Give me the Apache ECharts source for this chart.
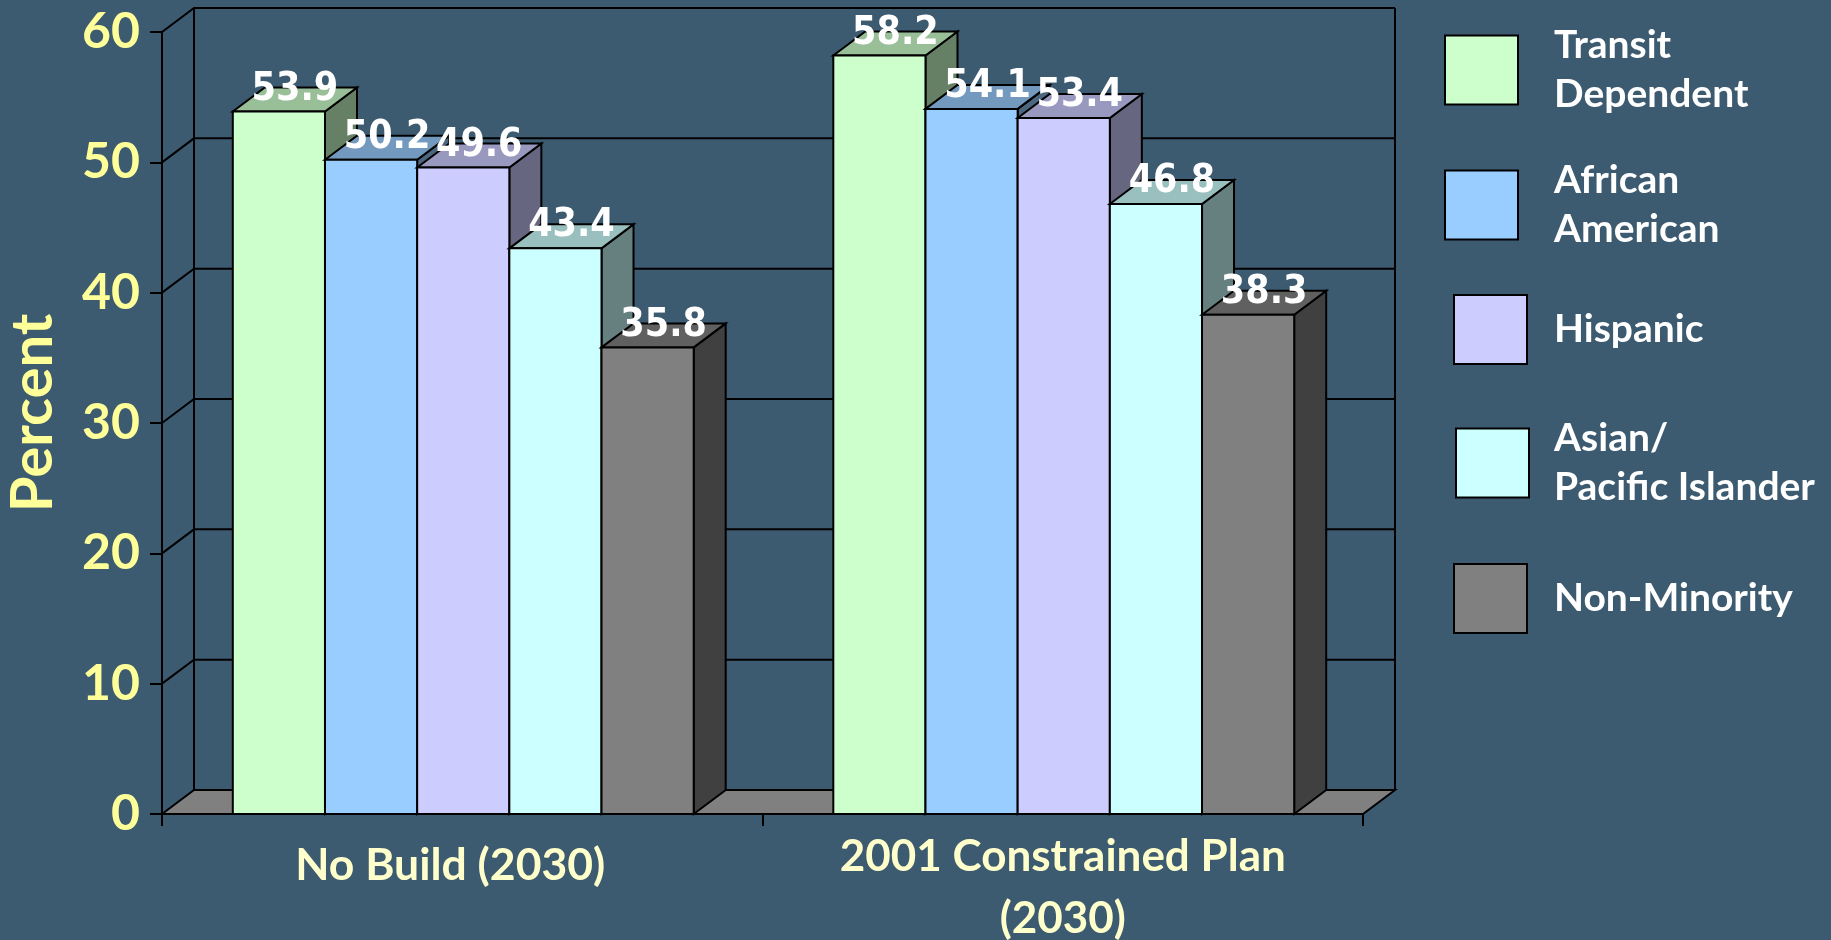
<!DOCTYPE html>
<html><head><meta charset="utf-8">
<style>html,body{margin:0;padding:0;background:#3c5a70}#c{width:1831px;height:940px}</style>
<script src="https://cdn.jsdelivr.net/npm/echarts@6/dist/echarts.min.js"></script></head>
<body><div id="c"></div>
<script>
const categories = ['No Build (2030)', '2001 Constrained Plan\n(2030)'];
const tickValues = [0, 10, 20, 30, 40, 50, 60];
const transitDependent = [53.9, 58.2];
const africanAmerican = [50.2, 54.1];
const hispanic = [49.6, 53.4];
const asianPacific = [43.4, 46.8];
const nonMinority = [35.8, 38.3];
const names = ['Transit\nDependent', 'African\nAmerican', 'Hispanic', 'Asian/\nPacific Islander', 'Non-Minority'];
const colors = ['#CCFFCC', '#99CCFF', '#CCCCFF', '#CCFFFF', '#808080'];
const topColors = ['#99BF99', '#7399BF', '#9999BF', '#99BFBF', '#606060'];
const sideColors = ['#668066', '#4D6680', '#666680', '#668080', '#404040'];
const values = [transitDependent, africanAmerican, hispanic, asianPacific, nonMinority];

const DX = 32, DY = 24;
const FONT = 'Lato';
const BAR = 0.1535;          // bar width as share of a category band
const chart = echarts.init(document.getElementById('c'));

function barSeries(idx) {
  return {
    type: 'custom', name: names[idx], coordinateSystem: 'cartesian2d', z: 3, clip: false,
    itemStyle: { color: colors[idx] },
    encode: { x: 0, y: 1 },
    data: values[idx].map((v, i) => [i, v]),
    renderItem(params, api) {
      const band = api.size([1, 0])[0];
      const w = band * BAR;
      const c = api.coord([api.value(0), api.value(1)]);
      const base = api.coord([api.value(0), 0])[1];
      const x0 = c[0] + (idx - 2.5) * w + 1;
      const x1 = x0 + w, y = c[1];
      const stroke = { stroke: '#000', lineWidth: 2, lineJoin: 'miter' };
      const poly = (points, fill) => ({ type: 'polygon', z2: idx * 3 + 1, shape: { points }, style: { fill, ...stroke } });
      return { type: 'group', children: [
        poly([[x1, base], [x1 + DX, base - DY], [x1 + DX, y - DY], [x1, y]], sideColors[idx]),
        poly([[x0, y], [x0 + DX, y - DY], [x1 + DX, y - DY], [x1, y]], topColors[idx]),
        poly([[x0, base], [x0, y], [x1, y], [x1, base]], colors[idx]),
        { type: 'text', z2: 100, x: x0 + w / 2 + DX / 2, y: y - 22,
          style: { text: api.value(1).toFixed(1), fill: '#fff', font: 'bold 39px "DejaVu Sans Condensed", "DejaVu Sans"', align: 'center', verticalAlign: 'middle' } }
      ] };
    }
  };
}

const wallSeries = {
  type: 'custom', name: 'walls', z: 1, clip: false, silent: true,
  encode: { y: 0 },
  data: tickValues.map(v => [v]),
  renderItem(params, api) {
    const v = api.value(0);
    const band = api.size([1, 0])[0];
    const l = api.coord([0, v])[0] - band / 2;
    const r = api.coord([1, v])[0] + band / 2;
    const y = api.coord([0, v])[1];
    const top = api.coord([0, 60])[1];
    const line = { stroke: '#000', lineWidth: 2, fill: 'none' };
    const kids = [];
    if (v === 0) {
      kids.push({ type: 'polygon', shape: { points: [[l, y], [l + DX, y - DY], [r + DX, y - DY], [r, y]] }, style: { fill: '#808080', stroke: '#000', lineWidth: 2 } });
      kids.push({ type: 'line', shape: { x1: l + DX, y1: top - DY, x2: l + DX, y2: y - DY }, style: line });
      kids.push({ type: 'line', shape: { x1: r + DX, y1: top - DY, x2: r + DX, y2: y - DY }, style: line });
    } else {
      kids.push({ type: 'polyline', shape: { points: [[l, y], [l + DX, y - DY], [r + DX, y - DY]] }, style: line });
    }
    return { type: 'group', children: kids };
  }
};

const legendPos = [[1444, 19], [1444, 156], [1453, 294], [1455, 412], [1453, 563]];
const legendTextTop = [4, 0, 8, 4, 0];
const legends = names.map((n, i) => ({
  data: [n], left: legendPos[i][0], top: legendPos[i][1], padding: 0, orient: 'vertical',
  icon: 'rect', itemWidth: 73, itemHeight: 69,
  selectedMode: false,
  itemStyle: { color: colors[i], borderColor: '#000', borderWidth: 2 },
  textStyle: { color: '#fff', fontFamily: FONT, fontWeight: 'bold', fontSize: 39, lineHeight: 49, padding: [legendTextTop[i], 0, 0, 1553 - legendPos[i][0] - 78] }
}));

chart.setOption({
  animation: false,
  backgroundColor: '#3c5a70',
  grid: { left: 162, right: 468, top: 32, bottom: 126, outerBoundsMode: 'none' },
  legend: legends,
  xAxis: {
    type: 'category', data: categories,
    axisLine: { lineStyle: { color: '#000', width: 2 } },
    axisTick: { show: true, length: 12, lineStyle: { color: '#000', width: 2 } },
    axisLabel: {
      interval: 0, margin: 12,
      color: '#FFFFCC', fontFamily: FONT, fontWeight: 'bold', fontSize: 44, lineHeight: 62,
      formatter: (v, i) => i === 0 ? '{a|' + v + '}' : v,
      rich: { a: { color: '#FFFFCC', fontFamily: FONT, fontWeight: 'bold', fontSize: 44.5, lineHeight: 62, padding: [17, 24, 0, 0] } }
    }
  },
  yAxis: {
    type: 'value', min: 0, max: 60, interval: 10,
    name: 'Percent', nameLocation: 'middle', nameRotate: 90, nameGap: 100,
    nameTextStyle: { color: '#FFFF99', fontFamily: FONT, fontWeight: 'bold', fontSize: 58, padding: [0, 0, 0, 20] },
    axisLine: { show: true, lineStyle: { color: '#000', width: 2 } },
    axisTick: { show: true, length: 12, lineStyle: { color: '#000', width: 2 } },
    splitLine: { show: false },
    axisLabel: { margin: 22, color: '#FFFF99', fontFamily: FONT, fontWeight: 'bold', fontSize: 50 }
  },
  series: [wallSeries, ...values.map((_, i) => barSeries(i))]
});
</script></body></html>
